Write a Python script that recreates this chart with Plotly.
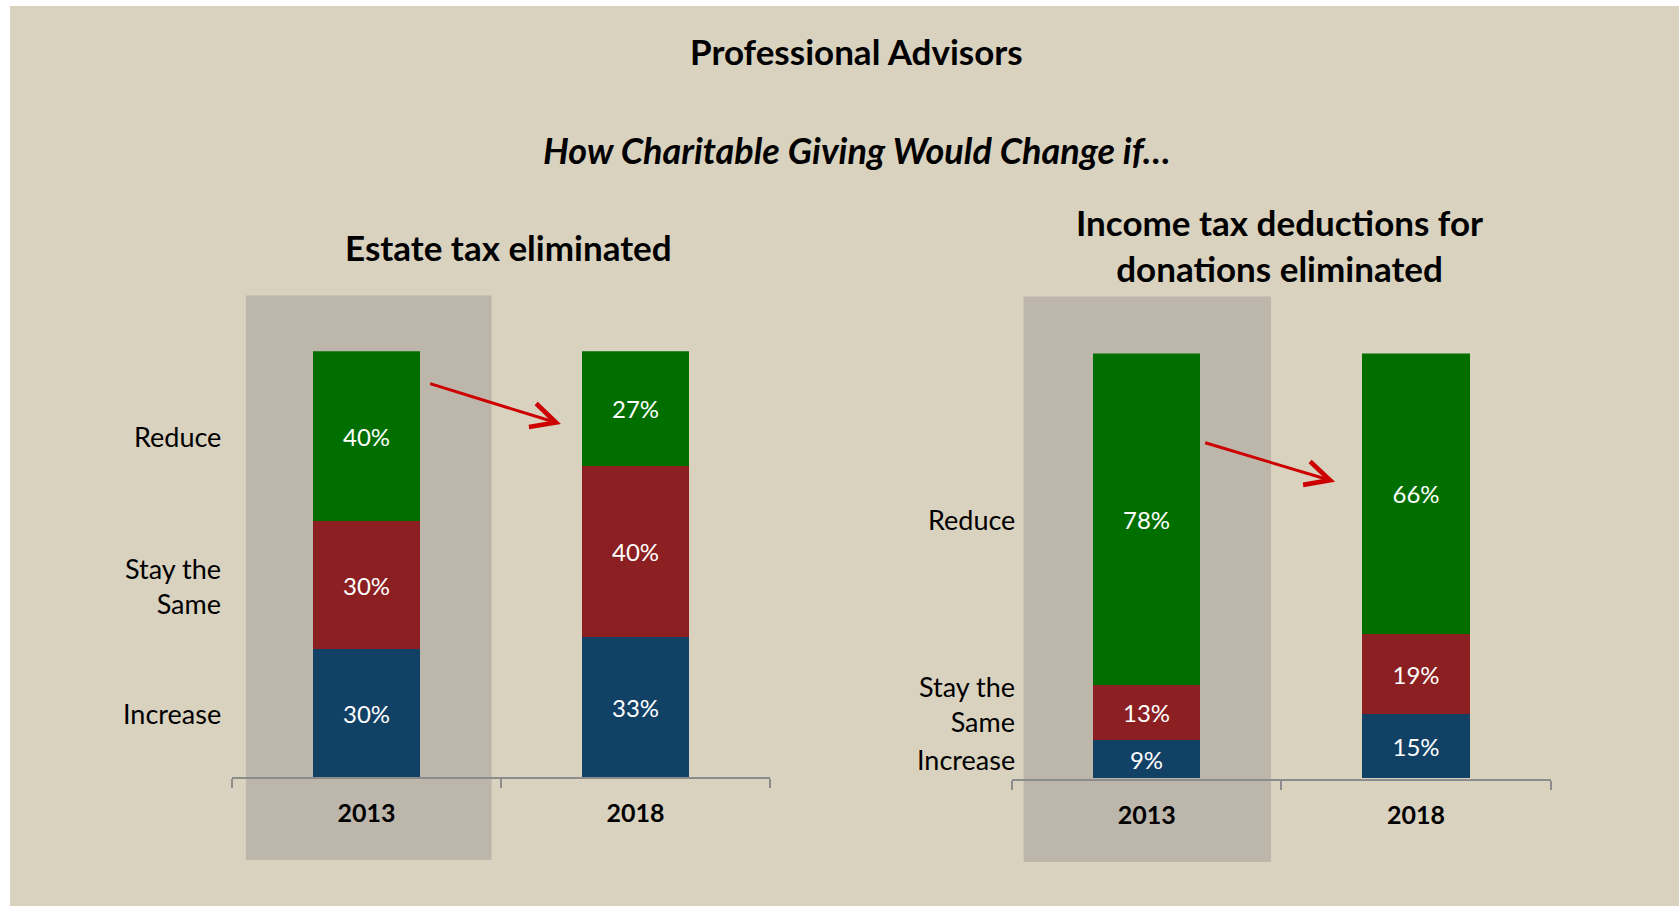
import plotly.graph_objects as go

# ---------------- data ----------------
years = ["2013", "2018"]
categories = ["Increase", "Stay the<br>Same", "Reduce"]

estate_increase = [30, 33]
estate_same = [30, 40]
estate_reduce = [40, 27]

income_increase = [9, 15]
income_same = [13, 19]
income_reduce = [78, 66]

main_title = "Professional Advisors"
sub_title = "<i>How Charitable Giving Would Change if…</i>"
panel_titles = ["Estate tax eliminated", "Income tax deductions for<br>donations eliminated"]

colors = ["#124166", "#8B1F21", "#006F00"]
FONT = "Lato"
W, H = 1679, 906

fig = go.Figure()

panels = [
    ([estate_increase, estate_same, estate_reduce], "x", "y"),
    ([income_increase, income_same, income_reduce], "x2", "y2"),
]
for series, xa, ya in panels:
    for vals, name, col in zip(series, categories, colors):
        fig.add_trace(go.Bar(
            x=years, y=vals, name=name.replace("<br>", " "),
            marker=dict(color=col, line=dict(width=0)),
            width=0.4,
            text=[f"{v}%" for v in vals],
            textposition="inside", insidetextanchor="middle",
            textangle=0,
            textfont=dict(family=FONT, size=24, color="white"),
            xaxis=xa, yaxis=ya, showlegend=False,
            hoverinfo="skip",
        ))

axis_x = dict(
    type="category", range=[-0.5, 1.5],
    showline=True, linecolor="#8C8C8C", linewidth=2,
    ticks="outside", tickson="boundaries", ticklen=9, tickcolor="#8C8C8C", tickwidth=2,
    tickfont=dict(family=FONT, size=25, color="black", weight="bold"),
    ticklabelstandoff=13,
    showgrid=False, zeroline=False, fixedrange=True,
)
axis_y = dict(range=[0, 100], showticklabels=False, showgrid=False,
              zeroline=False, showline=False, fixedrange=True)

fig.update_layout(
    width=W, height=H,
    margin=dict(l=0, r=0, t=0, b=0),
    paper_bgcolor="white", plot_bgcolor="rgba(0,0,0,0)",
    barmode="stack", bargap=0,
    xaxis=dict(axis_x, domain=[232 / W, 770 / W], anchor="y"),
    yaxis=dict(axis_y, domain=[1 - 777.4 / H, 1 - 351.2 / H], anchor="x"),
    xaxis2=dict(axis_x, domain=[1012 / W, 1550.5 / W], anchor="y2"),
    yaxis2=dict(axis_y, domain=[1 - 778.5 / H, 1 - 353.4 / H], anchor="x2"),
)

shapes = [
    # beige slide background
    dict(type="rect", xref="paper", yref="paper", x0=10 / W, x1=1, y0=0, y1=1 - 6 / H,
         fillcolor="#D9D2BF", line=dict(width=0), layer="below"),
    # shaded 2013 panels
    dict(type="rect", xref="x", yref="paper", x0=-0.448, x1=0.465,
         y0=1 - 860 / H, y1=1 - 295.5 / H, fillcolor="#BDB6AB", line=dict(width=0), layer="below"),
    dict(type="rect", xref="x2", yref="paper", x0=-0.457, x1=0.462,
         y0=1 - 862 / H, y1=1 - 296.6 / H, fillcolor="#BDB6AB", line=dict(width=0), layer="below"),
]
fig.update_layout(shapes=shapes)

ann = []
def title_ann(text, xpx, ypx, size):
    return dict(text=text, x=xpx / W, y=1 - ypx / H, xref="paper", yref="paper",
                xanchor="center", yanchor="middle", showarrow=False,
                font=dict(family=FONT, size=size, color="black"))

ann.append(title_ann(f"<b>{main_title}</b>", 856.7, 51.4, 35))
ann.append(title_ann(f"<b>{sub_title}</b>", 856.7, 150, 36))
ann.append(title_ann(f"<b>{panel_titles[0]}</b>", 508.6, 247.4, 35))
ann.append(title_ann(f"<b>{panel_titles[1]}</b>", 1279.6, 244.6, 35))

# category labels at the 2013 segment mid-points
label_cfg = [
    ([estate_increase, estate_same, estate_reduce], "y", 222.5 / W, [0, 0, 0]),
    ([income_increase, income_same, income_reduce], "y2", 1016.5 / W, [0, 9, 0]),
]
for series, ya, xr, shifts in label_cfg:
    base = 0
    for vals, name, sh in zip(series, categories, shifts):
        mid = base + vals[0] / 2
        base += vals[0]
        ann.append(dict(text=name, x=xr, y=mid, xref="paper", yref=ya, xanchor="right",
                        yanchor="middle", align="right", yshift=sh, showarrow=False,
                        font=dict(family=FONT, size=27, color="black")))

# arrows between bars
for xa, ya, x0, y0, x1, y1 in [("x", "y", 0.231, 92.5, 0.723, 82.9),
                               ("x2", "y2", 0.212, 79.1, 0.70, 69.8)]:
    ann.append(dict(text="", x=x1, y=y1, ax=x0, ay=y0, xref=xa, yref=ya, axref=xa, ayref=ya,
                    showarrow=True, arrowhead=5, arrowsize=1.6, arrowwidth=3,
                    arrowcolor="#CC0000", standoff=0, startstandoff=0))
fig.update_layout(annotations=ann)

fig.write_html("out.html",
               config={"displayModeBar": False, "staticPlot": False},
               post_script="document.body.style.margin='0';document.body.style.overflow='hidden';")
